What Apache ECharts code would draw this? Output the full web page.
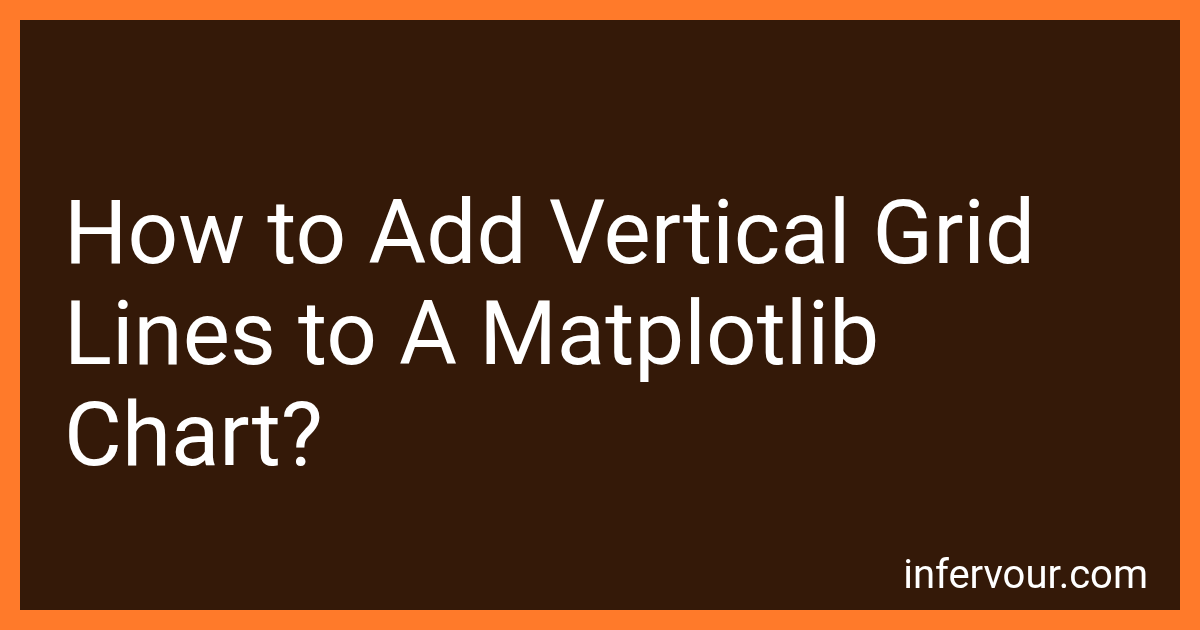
<!DOCTYPE html>
<html>
<head>
<meta charset="utf-8">
<script src="https://cdn.jsdelivr.net/npm/echarts@6/dist/echarts.min.js"></script>
<style>
  html, body { margin:0; padding:0; background:#ff7a2a; }
  #chart { width:1200px; height:630px; }
</style>
</head>
<body>
<div id="chart"></div>
<script>
// ---------- content ----------
const titleLines = ['How to Add Vertical Grid', 'Lines to A Matplotlib', 'Chart?'];
const siteLabel = ['infervour.com'];

const chart = echarts.init(document.getElementById('chart'), null, { renderer: 'canvas' });

const lineGap = 101;
const firstTop = 196;

const titleEls = titleLines.map((t, i) => ({
  type: 'text',
  left: 64,
  top: firstTop + i * lineGap,
  style: {
    text: t,
    fill: '#ffffff',
    font: '400 89px Roboto'
  },
  z: 10
}));

chart.setOption({
  backgroundColor: '#ff7a2a',
  graphic: [
    {
      type: 'rect',
      shape: { x: 20, y: 20, width: 1160, height: 590 },
      style: { fill: '#341908' },
      z: 1
    },
    ...titleEls,
    {
      type: 'text',
      right: 52,
      top: 558,
      style: {
        text: siteLabel[0],
        fill: '#ffffff',
        font: '400 40px Roboto'
      },
      z: 10
    }
  ]
});
</script>
</body>
</html>
